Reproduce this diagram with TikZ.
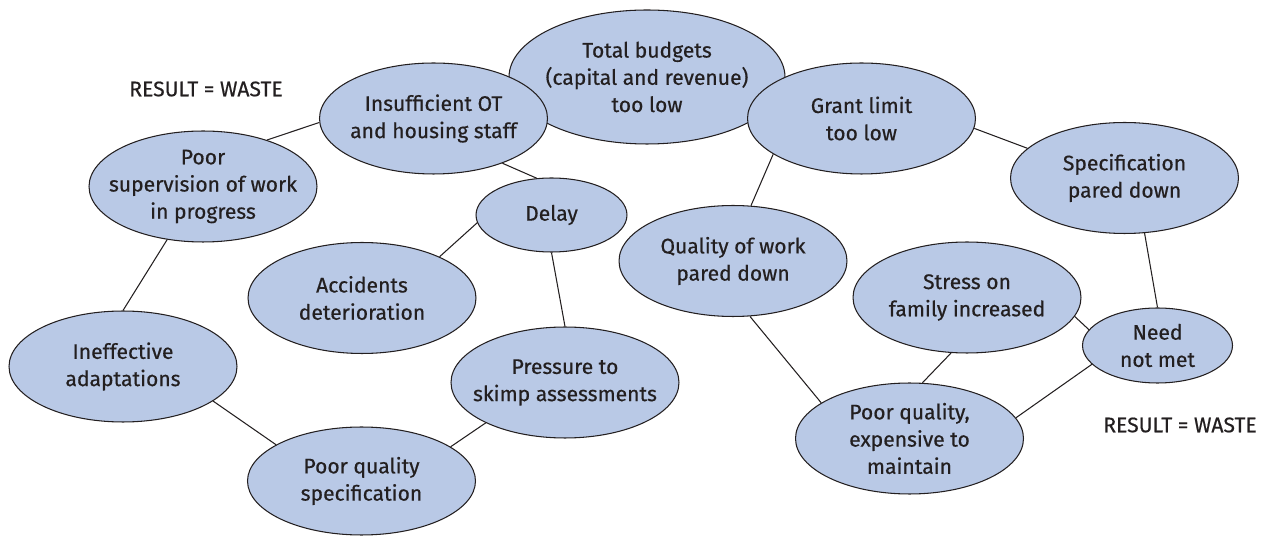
\documentclass[tikz,border=0pt]{standalone}
\usepackage{fontspec}
\setmainfont{Fira Sans}[FakeBold=0.5]
\usetikzlibrary{shapes.geometric}
\definecolor{blobblue}{RGB}{185,201,230}
\definecolor{inkgray}{RGB}{35,31,32}
\tikzset{
  blob/.style={ellipse, draw=inkgray, fill=blobblue, line width=0.6pt, inner sep=0pt,
    minimum width=4.56cm, minimum height=2.22cm},
  smallblob/.style={blob, minimum width=3cm, minimum height=1.5cm},
  txt/.style={align=center, text=inkgray, font=\fontsize{12}{15.5}\selectfont},
  link/.style={draw=inkgray, line width=0.6pt}
}
\begin{document}
\begin{tikzpicture}[x=0.02cm,y=-0.02cm]
\useasboundingbox (0,0) rectangle (1271,536);
% ellipses, back to front
\node[blob, minimum width=5.52cm, minimum height=2.68cm,
  label={[txt]center:Total budgets\\(capital and revenue)\\too low}] (tb) at (647,77) {};
\node[blob, label={[txt]center:Insufficient OT\\and housing staff}] (ot) at (433.5,118.5) {};
\node[blob, label={[txt]center:Grant limit\\too low}] (grant) at (861.5,118.5) {};
\node[blob, label={[txt]center:Poor\\supervision of work\\in progress}] (ps) at (203,186.5) {};
\node[smallblob, minimum width=3.02cm, minimum height=1.48cm,
  label={[txt]center:Delay}] (delay) at (551.5,215) {};
\node[blob, label={[txt]center:Specification\\pared down}] (spec) at (1124.5,178) {};
\node[blob, label={[txt]center:Quality of work\\pared down}] (qual) at (733,261) {};
\node[blob, label={[txt]center:Accidents\\deterioration}] (acc) at (362,298) {};
\node[blob, label={[txt]center:Stress on\\family increased}] (stress) at (967,297.5) {};
\node[smallblob, label={[txt]center:Need\\not met}] (need) at (1157.5,345.5) {};
\node[blob, label={[txt]center:Ineffective\\adaptations}] (ineff) at (123,366.5) {};
\node[blob, label={[txt]center:Pressure to\\skimp assessments}] (press) at (565,382.5) {};
\node[blob, minimum height=2.16cm, label={[txt]center:Poor quality\\specification}] (pqs) at (361.5,481) {};
\node[blob, label={[txt]center:Poor quality,\\expensive to\\maintain}] (pqe) at (909.5,438.5) {};
% captions
\node[txt] (waste1) at (206,89) {RESULT = WASTE};
\node[txt] (waste2) at (1180,425) {RESULT = WASTE};
% links
\draw[link] (ot.182) -- (ps.36);
\draw[link] (ot.-33) -- (delay.112);
\draw[link] (delay.186) -- (acc.28);
\draw[link] (delay.270) -- (press.90);
\draw[link] (press.207) -- (pqs.21);
\draw[link] (ps.236) -- (ineff.90);
\draw[link] (ineff.-21) -- (pqs.157);
\draw[link] (grant.-5) -- (spec.163);
\draw[link] (grant.202) -- (qual.72);
\draw[link] (spec.-70) -- (need.90);
\draw[link] (stress.-10) -- (need.167);
\draw[link] (qual.-73) -- (pqe.158);
\draw[link] (stress.254) -- (pqe.77);
\draw[link] (need.196) -- (pqe.11);
\end{tikzpicture}
\end{document}
